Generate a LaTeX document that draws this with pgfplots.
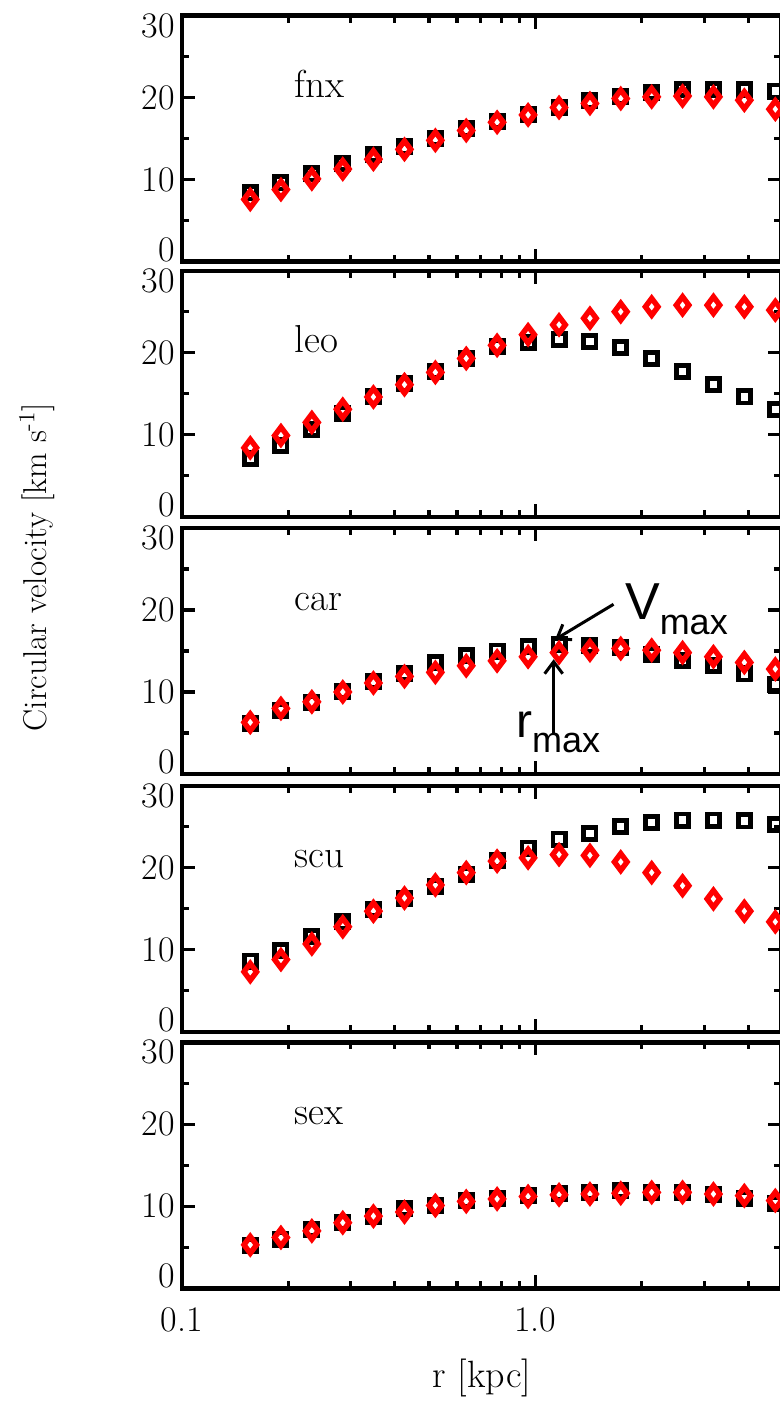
\documentclass[border=0pt]{standalone}
\usepackage{fontspec}
\newfontfamily\arialfont{Liberation Sans}
\usepackage{pgfplots}
\usepackage{pgfplotstable}
\pgfplotsset{compat=1.18}
\usetikzlibrary{arrows.meta}

% r [kpc], black squares, red diamonds
\pgfplotstableread{
r      sq    dm
0.156  8.4   7.6
0.1905 9.6   8.8
0.233  10.7  10.1
0.285  12.0  11.3
0.348  13.1  12.5
0.426  14.0  13.7
0.521  15.0  14.8
0.637  16.2  16.0
0.779  17.1  17.0
0.953  17.9  17.9
1.166  18.8  18.8
1.426  19.6  19.3
1.743  20.1  19.9
2.132  20.6  20.1
2.607  21.0  20.2
3.188  21.0  20.1
3.899  21.0  19.7
4.770  20.8  18.6
}\fnx
\pgfplotstableread{
r      sq    dm
0.156  7.1   8.4
0.1905 8.7   9.9
0.233  10.6  11.5
0.285  12.6  13.1
0.348  14.6  14.6
0.426  16.2  16.1
0.521  17.7  17.6
0.637  19.3  19.3
0.779  20.7  20.9
0.953  21.3  22.2
1.166  21.6  23.4
1.426  21.4  24.2
1.743  20.6  25.0
2.132  19.3  25.6
2.607  17.7  25.8
3.188  16.1  25.8
3.899  14.6  25.6
4.770  13.1  25.2
}\leo
\pgfplotstableread{
r      sq    dm
0.156  6.2   6.3
0.1905 7.7   8.0
0.233  8.7   8.8
0.285  10.1  10.0
0.348  11.3  11.1
0.426  12.3  11.9
0.521  13.6  12.4
0.637  14.4  13.2
0.779  15.0  13.8
0.953  15.5  14.3
1.166  15.8  14.8
1.426  15.7  15.1
1.743  15.4  15.3
2.132  14.6  15.1
2.607  13.9  14.8
3.188  13.2  14.3
3.899  12.2  13.6
4.770  10.9  12.8
}\car
\pgfplotstableread{
r      sq    dm
0.156  8.6   7.3
0.1905 9.9   8.8
0.233  11.6  10.7
0.285  13.4  12.8
0.348  14.9  14.7
0.426  16.3  16.3
0.521  17.7  17.9
0.637  19.2  19.4
0.779  20.9  20.8
0.953  22.4  21.2
1.166  23.5  21.6
1.426  24.2  21.5
1.743  25.0  20.7
2.132  25.5  19.4
2.607  25.8  17.8
3.188  25.8  16.2
3.899  25.7  14.7
4.770  25.3  13.4
}\scu
\pgfplotstableread{
r      sq    dm
0.156  5.2   5.3
0.1905 6.0   6.2
0.233  7.2   7.0
0.285  8.0   8.0
0.348  8.8   8.8
0.426  9.7   9.3
0.521  10.1  10.1
0.637  10.7  10.6
0.779  10.9  10.9
0.953  11.3  11.2
1.166  11.6  11.4
1.426  11.7  11.5
1.743  11.9  11.6
2.132  11.7  11.7
2.607  11.7  11.7
3.188  11.5  11.5
3.899  10.9  11.3
4.770  10.3  10.7
}\sex

\pgfplotsset{
  dwarfpanel/.style={
    xmin=0.1, xmax=4.95, ymin=0, ymax=30,
    scale only axis, width=299.5pt, height=123pt, anchor=south west,
    axis line style={line width=2.2pt},
    xtick={0.1,1}, xticklabels={},
    minor xtick={0.2,0.3,0.4,0.5,0.6,0.7,0.8,0.9,2,3,4},
    ytick={0,10,20,30}, minor ytick={5,15,25},
    yticklabels={{\smash{\raisebox{0.3pt}{0}}},10,20,{\smash{\raisebox{-10.8pt}{30}}}},
    tick style={black, line width=1.6pt},
    major tick length=6.5pt, minor tick length=3.5pt,
    yticklabel style={font=\fontsize{18}{20}\selectfont, inner ysep=0pt},
    xticklabel style={font=\fontsize{18}{20}\selectfont, yshift=-6pt},
  },
  sqmark/.style={only marks, mark=square, mark size=3.05pt,
    mark options={draw=black, fill=white, line width=2.4pt}},
  dmmark/.style={only marks, mark=diamond, mark size=4.2pt,
    mark options={draw=red, fill=white, line width=2.7pt}},
}
\newcommand{\plab}[1]{\node[anchor=base west, font=\fontsize{19.5}{22}\selectfont] at (axis cs:0.199,20) {#1};}

\begin{document}
\begin{tikzpicture}
\begin{axis}[xmode=log, dwarfpanel, at={(91pt,-130.85pt)}]
\addplot[sqmark] table[x=r,y=sq] {\fnx};
\addplot[dmmark] table[x=r,y=dm] {\fnx};
\plab{fnx}
\end{axis}
\begin{axis}[xmode=log, dwarfpanel, at={(91pt,-258.35pt)}]
\addplot[sqmark] table[x=r,y=sq] {\leo};
\addplot[dmmark] table[x=r,y=dm] {\leo};
\plab{leo}
\end{axis}
\begin{axis}[xmode=log, dwarfpanel, at={(91pt,-387pt)}]
\addplot[sqmark] table[x=r,y=sq] {\car};
\addplot[dmmark] table[x=r,y=dm] {\car};
\plab{car}
\draw[line width=1.5pt, -{Straight Barb[length=6pt,width=9pt]}] (axis cs:1.663,20.7) -- (axis cs:1.136,16.4);
\draw[line width=1.5pt, -{Straight Barb[length=6pt,width=9pt]}] (axis cs:1.126,5.0) -- (axis cs:1.126,14.0);
\node[anchor=base west, inner sep=0pt, font=\arialfont\fontsize{26}{28}\selectfont] at (axis cs:1.788,18.85)
  {V\raisebox{-7.5pt}{\fontsize{18}{20}\selectfont max}};
\node[anchor=base west, inner sep=0pt, font=\arialfont\fontsize{24}{26}\selectfont] at (axis cs:0.879,4.41)
  {r\raisebox{-7.5pt}{\fontsize{18}{20}\selectfont max}};
\end{axis}
\begin{axis}[xmode=log, dwarfpanel, at={(91pt,-515.85pt)}]
\addplot[sqmark] table[x=r,y=sq] {\scu};
\addplot[dmmark] table[x=r,y=dm] {\scu};
\plab{scu}
\end{axis}
\begin{axis}[xmode=log, dwarfpanel, at={(91pt,-644.15pt)}, xticklabels={0.1,1.0}]
\addplot[sqmark] table[x=r,y=sq] {\sex};
\addplot[dmmark] table[x=r,y=dm] {\sex};
\plab{sex}
\end{axis}
\node[rotate=90, font=\fontsize{16.5}{18}\selectfont] at (18.5pt,-283.5pt) {Circular velocity [km s\textsuperscript{-1}]};
\node[font=\fontsize{19}{21}\selectfont] at (241pt,-689pt) {r [kpc]};
\pgfresetboundingbox
\useasboundingbox (0,0) rectangle (390pt,-703pt);
\end{tikzpicture}
\end{document}
